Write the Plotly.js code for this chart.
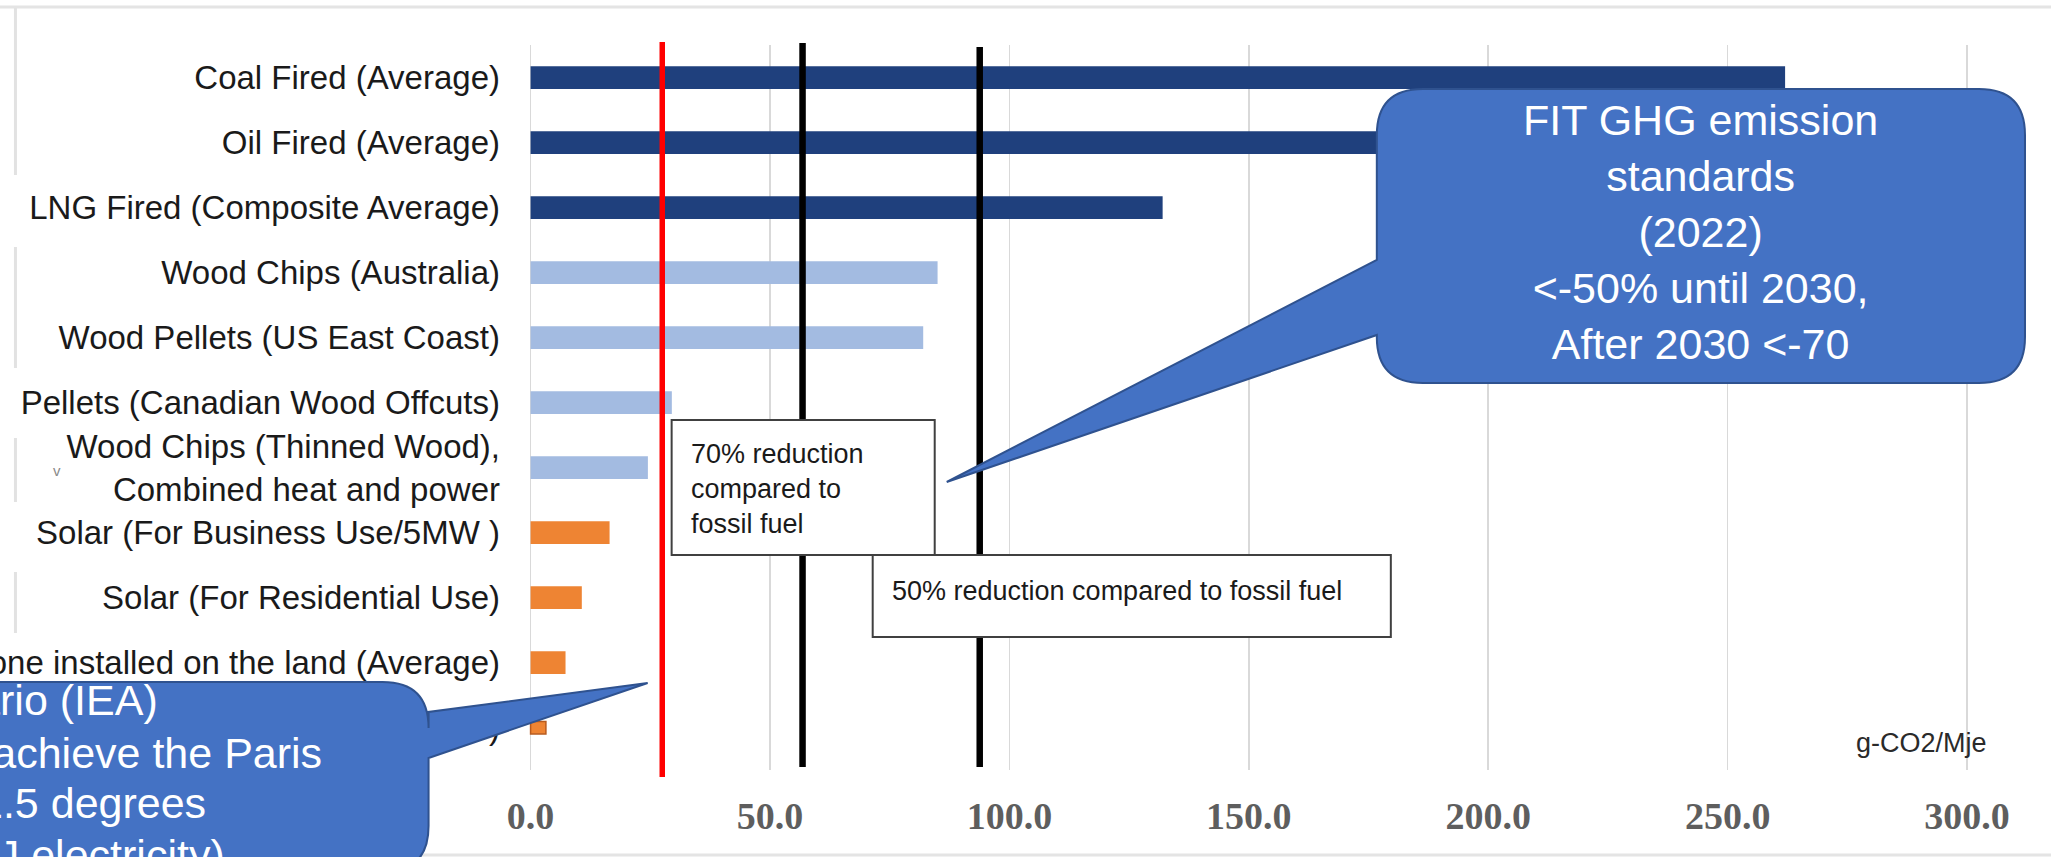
<!DOCTYPE html>
<html>
<head>
<meta charset="utf-8">
<script src="https://cdn.plot.ly/plotly-3.0.1.min.js"></script>
<style>html,body{margin:0;padding:0;background:#fff;}#chart{width:2051px;height:857px;}</style>
</head>
<body>
<div id="chart"></div>
<script>
// ---------------- DATA ----------------
const categories = [
  "Coal Fired (Average)",
  "Oil Fired (Average)",
  "LNG Fired (Composite Average)",
  "Wood Chips (Australia)",
  "Wood Pellets (US East Coast)",
  "Pellets (Canadian Wood Offcuts)",
  "Wood Chips (Thinned Wood), Combined heat and power",
  "Solar (For Business Use/5MW )",
  "Solar (For Residential Use)",
  "Wind power, the one installed on the land (Average)",
  "Hydro (Small and Medium-scale)"
];
const tickLabels = [
  "Coal Fired (Average)",
  "Oil Fired (Average)",
  "LNG Fired (Composite Average)",
  "Wood Chips (Australia)",
  "Wood Pellets (US East Coast)",
  "Pellets (Canadian Wood Offcuts)",
  "Wood Chips (Thinned Wood),<br>Combined heat and power",
  "Solar (For Business Use/5MW )",
  "Solar (For Residential Use)",
  "Wind power, the one installed on the land (Average)",
  "Hydro (Small and Medium-scale)"
];
const emissions = [262, 205, 132, 85, 82, 29.5, 24.5, 16.5, 10.7, 7.3, 3.2]; // g-CO2/MJe
const sourceGroup = ["fossil","fossil","fossil","biomass","biomass","biomass","biomass","renewable","renewable","renewable","renewable"];
const xTickValues = [0, 50, 100, 150, 200, 250, 300];
const xTickLabels = ["0.0", "50.0", "100.0", "150.0", "200.0", "250.0", "300.0"];
const ieaParisLevel = 27.5;      // red line
const reduction70Level = 56.8;   // 70% reduction vs fossil fuel
const reduction50Level = 93.8;   // 50% reduction vs fossil fuel
const unitLabel = "g-CO2/Mje";

// ---------------- STYLE ----------------
const groupColors = {fossil: "#1F407D", biomass: "#A3BBE1", renewable: "#EE8433"};
const barColors = sourceGroup.map(g => groupColors[g]);
const barWidths = categories.map((c, i) => i === categories.length - 1 ? 0.19 : 0.35);
const barLineColors = categories.map((c, i) => i === categories.length - 1 ? "#B85B1E" : "rgba(0,0,0,0)");

const W = 2051, H = 857;
const PL = 521.4, PR = 2040, PT = 45, PB = 770;
const pxPerUnit = 4.787;
const xMin = -2, xMax = xMin + (PR - PL) / pxPerUnit;
const fx = p => (p - PL) / (PR - PL);
const fy = p => (PB - p) / (PB - PT);
const P = (x, y) => fx(x).toFixed(5) + "," + fy(y).toFixed(5);

const SANS = "Liberation Sans, Arial, sans-serif";
const CALLOUT_FILL = "#4472C4", CALLOUT_LINE = "#2F528F";

// callout 1 (FIT)
const r1 = 46;
const fitPath = `M ${P(1377+r1,89)} L ${P(2025-r1,89)} Q ${P(2025,89)} ${P(2025,89+r1)} L ${P(2025,383-r1)} Q ${P(2025,383)} ${P(2025-r1,383)} L ${P(1377+r1,383)} Q ${P(1377,383)} ${P(1377,383-r1)} L ${P(1377,335)} L ${P(947,482)} L ${P(1377,260)} L ${P(1377,89+r1)} Q ${P(1377,89)} ${P(1377+r1,89)} Z`;
// callout 2 (IEA)
const r2 = 46;
const ieaPath = `M ${P(-300,682)} L ${P(429-r2,682)} Q ${P(429,682)} ${P(429,682+r2)} L ${P(429,712)} L ${P(648,683)} L ${P(429,758)} L ${P(429,872-r2)} Q ${P(429,872)} ${P(429-r2,872)} L ${P(-300,872)} Z`;

const frameSeg = (x, y0, y1) => ({type:"line", xref:"paper", yref:"paper", x0:fx(x), x1:fx(x), y0:fy(y0), y1:fy(y1), line:{color:"#e2e2e2", width:3}});

const shapes = [
  {type:"line", xref:"paper", yref:"paper", x0:fx(0), x1:fx(W), y0:fy(7), y1:fy(7), line:{color:"#e4e4e4", width:3}},
  {type:"line", xref:"paper", yref:"paper", x0:fx(0), x1:fx(W), y0:fy(855), y1:fy(855), line:{color:"#e4e4e4", width:3}},
  frameSeg(16, 8, 175), frameSeg(16, 247, 368), frameSeg(16, 438, 502), frameSeg(16, 572, 633),
  {type:"line", xref:"x", yref:"paper", x0:ieaParisLevel, x1:ieaParisLevel, y0:fy(42), y1:fy(777), line:{color:"#FF0000", width:5.5}},
  {type:"line", xref:"x", yref:"paper", x0:reduction70Level, x1:reduction70Level, y0:fy(43), y1:fy(767), line:{color:"#000000", width:6.5}},
  {type:"line", xref:"x", yref:"paper", x0:reduction50Level, x1:reduction50Level, y0:fy(47), y1:fy(767), line:{color:"#000000", width:6.5}},
  {type:"rect", xref:"paper", yref:"paper", x0:fx(672), x1:fx(935), y0:fy(420), y1:fy(555), fillcolor:"#ffffff", line:{color:"#404040", width:2}},
  {type:"rect", xref:"paper", yref:"paper", x0:fx(873), x1:fx(1391), y0:fy(555), y1:fy(637), fillcolor:"#ffffff", line:{color:"#404040", width:2}},
  {type:"path", xref:"paper", yref:"paper", path:fitPath, fillcolor:CALLOUT_FILL, line:{color:CALLOUT_LINE, width:2}},
  {type:"path", xref:"paper", yref:"paper", path:ieaPath, fillcolor:CALLOUT_FILL, line:{color:CALLOUT_LINE, width:2}}
];

const ann = (x, y, text, opts) => Object.assign({xref:"paper", yref:"paper", x:fx(x), y:fy(y), text:text, showarrow:false, xanchor:"left", yanchor:"middle", font:{family:SANS, size:27, color:"#1a1a1a"}}, opts || {});

const annotations = [
  ann(689, 489, "70% reduction<br>compared to<br>fossil fuel", {align:"left"}),
  ann(890, 591, "50% reduction compared to fossil fuel"),
  ann(1922, 743, unitLabel, {xanchor:"center", font:{family:SANS, size:27, color:"#2a2a2a"}}),
  ann(58, 470, "v", {xanchor:"center", font:{family:SANS, size:15, color:"#8a8a8a"}}),
  ann(1701, 232, "FIT GHG emission<br>standards<br>(2022)<br>&lt;-50% until 2030,<br>After 2030 &lt;-70", {xanchor:"center", align:"center", font:{family:SANS, size:43, color:"#ffffff"}}),
  ann(160, 700, "Net Zero Emissions Scenario (IEA)", {xanchor:"right", font:{family:SANS, size:43, color:"#ffffff"}}),
  ann(324, 753, "Level required to achieve the Paris", {xanchor:"right", font:{family:SANS, size:43, color:"#ffffff"}}),
  ann(208, 803, "Agreement target of 1.5 degrees", {xanchor:"right", font:{family:SANS, size:43, color:"#ffffff"}}),
  ann(227, 855, "(g-CO2/MJ electricity)", {xanchor:"right", font:{family:SANS, size:43, color:"#ffffff"}})
];

const trace = {
  type: "bar",
  orientation: "h",
  y: categories,
  x: emissions,
  width: barWidths,
  marker: {color: barColors, line: {color: barLineColors, width: 1.5}},
  hoverinfo: "x+y"
};

const layout = {
  width: W, height: H,
  margin: {l: PL, r: W - PR, t: PT, b: H - PB, autoexpand: false},
  paper_bgcolor: "#ffffff",
  plot_bgcolor: "#ffffff",
  showlegend: false,
  bargap: 0,
  xaxis: {
    range: [xMin, xMax],
    tickvals: xTickValues,
    ticktext: xTickLabels,
    showgrid: true, gridcolor: "#d9d9d9", gridwidth: 1.5,
    zeroline: false, showline: false, ticks: "",
    ticklabelstandoff: 20,
    tickfont: {family: "Liberation Serif, Times New Roman, serif", size: 38, color: "#5e5e5e", weight: "bold"}
  },
  yaxis: {
    type: "category",
    categoryorder: "array",
    categoryarray: categories,
    tickvals: categories,
    ticktext: tickLabels,
    range: [10.65, -0.5],
    showgrid: false, zeroline: false, showline: false, ticks: "",
    ticklabelstandoff: 20,
    tickfont: {family: SANS, size: 33, color: "#1a1a1a"}
  },
  shapes: shapes,
  annotations: annotations
};

Plotly.newPlot("chart", [trace], layout, {displayModeBar: false, staticPlot: true});
</script>
</body>
</html>
